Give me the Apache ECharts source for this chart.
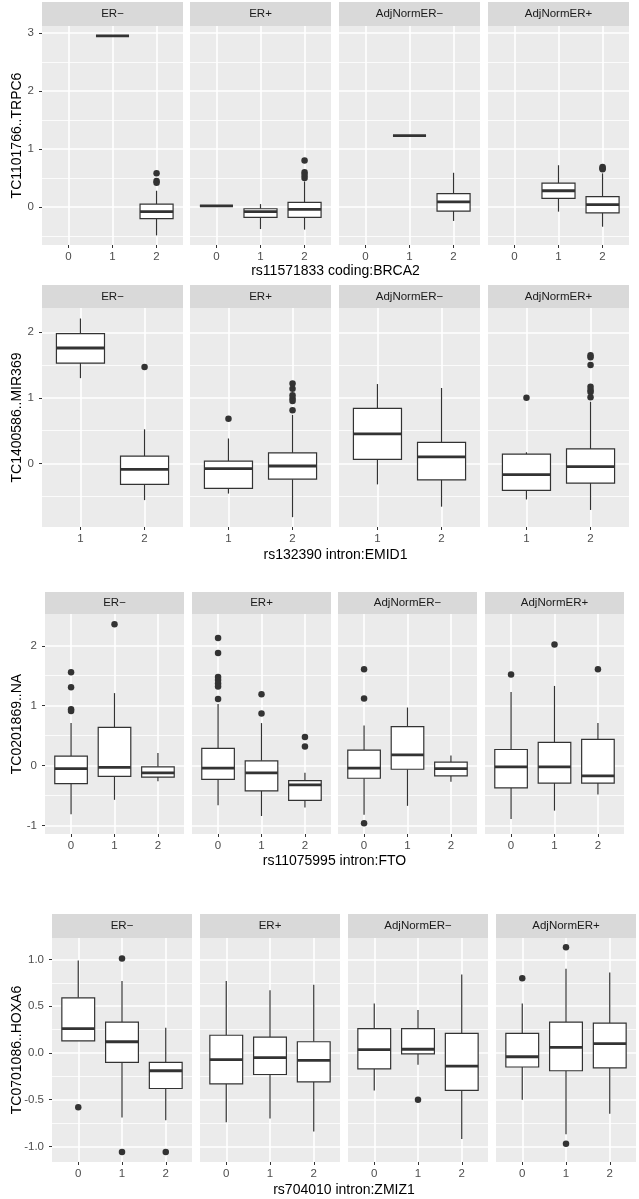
<!DOCTYPE html>
<html>
<head>
<meta charset="utf-8">
<script src="https://cdn.jsdelivr.net/npm/echarts@6/dist/echarts.min.js"></script>
<style>
html,body{margin:0;padding:0;background:#fff;}
#chart{width:639px;height:1199px;}
</style>
</head>
<body>
<div id="chart"></div>
<script>
// ---------------- DATA ----------------
const facetNames = ['ER−', 'ER+', 'AdjNormER−', 'AdjNormER+'];

// box stats per category: [lower whisker, Q1, median, Q3, upper whisker]
// Row 1
const row1Title = 'TC1101766..TRPC6';
const row1XTitle = 'rs11571833 coding:BRCA2';
const row1Cats = ['0', '1', '2'];
const row1YTicks = [0, 1, 2, 3];
const row1YMinor = [-0.5, 0.5, 1.5, 2.5];
const row1YRange = [-0.655, 3.12];
const row1Boxes = [
  [null, [2.95, 2.95, 2.95, 2.95, 2.95], [-0.49, -0.2, -0.08, 0.05, 0.28]],
  [[0.02, 0.02, 0.02, 0.02, 0.02], [-0.38, -0.18, -0.08, -0.03, 0.05], [-0.39, -0.18, -0.04, 0.08, 0.44]],
  [null, [1.23, 1.23, 1.23, 1.23, 1.23], [-0.24, -0.07, 0.09, 0.23, 0.59]],
  [null, [-0.08, 0.15, 0.28, 0.41, 0.72], [-0.34, -0.1, 0.04, 0.18, 0.58]]
];
const row1Outliers = [
  [[2, 0.58], [2, 0.45], [2, 0.42]],
  [[2, 0.8], [2, 0.6], [2, 0.55], [2, 0.5]],
  [],
  [[2, 0.69], [2, 0.67], [2, 0.65]]
];

// Row 2
const row2Title = 'TC1400586..MIR369';
const row2XTitle = 'rs132390 intron:EMID1';
const row2Cats = ['1', '2'];
const row2YTicks = [0, 1, 2];
const row2YMinor = [-0.5, 0.5, 1.5];
const row2YRange = [-0.97, 2.37];
const row2Boxes = [
  [[1.30, 1.53, 1.76, 1.98, 2.21], [-0.56, -0.32, -0.09, 0.11, 0.52]],
  [[-0.46, -0.38, -0.08, 0.035, 0.38], [-0.82, -0.24, -0.04, 0.16, 0.74]],
  [[-0.32, 0.06, 0.45, 0.84, 1.21], [-0.66, -0.25, 0.1, 0.32, 1.15]],
  [[-0.55, -0.41, -0.17, 0.14, 0.17], [-0.71, -0.3, -0.05, 0.22, 0.94]]
];
const row2Outliers = [
  [[1, 1.47]],
  [[0, 0.68], [1, 0.81], [1, 0.95], [1, 0.99], [1, 1.04], [1, 1.14], [1, 1.22]],
  [],
  [[0, 1.0], [1, 1.01], [1, 1.09], [1, 1.12], [1, 1.17], [1, 1.5], [1, 1.62], [1, 1.65]]
];

// Row 3
const row3Title = 'TC0201869..NA';
const row3XTitle = 'rs11075995 intron:FTO';
const row3Cats = ['0', '1', '2'];
const row3YTicks = [-1, 0, 1, 2];
const row3YMinor = [-0.5, 0.5, 1.5];
const row3YRange = [-1.14, 2.53];
const row3Boxes = [
  [[-0.81, -0.3, -0.05, 0.16, 0.71], [-0.57, -0.18, -0.03, 0.64, 1.21], [-0.26, -0.19, -0.12, -0.02, 0.21]],
  [[-0.66, -0.23, -0.04, 0.29, 1.03], [-0.84, -0.42, -0.12, 0.08, 0.71], [-0.7, -0.58, -0.32, -0.25, -0.12]],
  [[-0.82, -0.21, -0.04, 0.26, 0.67], [-0.67, -0.06, 0.18, 0.65, 0.97], [-0.27, -0.17, -0.05, 0.06, 0.17]],
  [[-0.89, -0.37, -0.02, 0.27, 1.23], [-0.75, -0.29, -0.02, 0.39, 1.33], [-0.48, -0.29, -0.17, 0.44, 0.71]]
];
const row3Outliers = [
  [[0, 1.56], [0, 1.31], [0, 0.94], [0, 0.91], [1, 2.36]],
  [[0, 2.13], [0, 1.88], [0, 1.48], [0, 1.43], [0, 1.37], [0, 1.32], [0, 1.11], [1, 1.19], [1, 0.87], [2, 0.48], [2, 0.32]],
  [[0, 1.61], [0, 1.12], [0, -0.96]],
  [[0, 1.52], [1, 2.02], [2, 1.61]]
];

// Row 4
const row4Title = 'TC0701086..HOXA6';
const row4XTitle = 'rs704010 intron:ZMIZ1';
const row4Cats = ['0', '1', '2'];
const row4YTicks = [-1.0, -0.5, 0.0, 0.5, 1.0];
const row4YMinor = [-0.75, -0.25, 0.25, 0.75];
const row4YRange = [-1.166, 1.23];
const row4Boxes = [
  [[0.13, 0.13, 0.26, 0.59, 0.99], [-0.69, -0.1, 0.12, 0.33, 0.77], [-0.72, -0.38, -0.19, -0.1, 0.27]],
  [[-0.74, -0.33, -0.07, 0.19, 0.77], [-0.7, -0.23, -0.05, 0.17, 0.67], [-0.84, -0.31, -0.08, 0.12, 0.73]],
  [[-0.4, -0.17, 0.035, 0.26, 0.53], [-0.125, -0.01, 0.04, 0.26, 0.46], [-0.92, -0.4, -0.14, 0.21, 0.84]],
  [[-0.5, -0.15, -0.04, 0.21, 0.53], [-0.87, -0.19, 0.06, 0.33, 0.9], [-0.65, -0.16, 0.1, 0.32, 0.86]]
];
const row4Outliers = [
  [[0, -0.58], [1, 1.01], [1, -1.06], [2, -1.06]],
  [],
  [[1, -0.5]],
  [[0, 0.8], [1, 1.13], [1, -0.97]]
];

// ---------------- LAYOUT (pixels) ----------------
const rows = [
  {title: row1Title, xTitle: row1XTitle, cats: row1Cats, ticks: row1YTicks, minor: row1YMinor, range: row1YRange, boxes: row1Boxes, outliers: row1Outliers, dec: 0,
   stripTop: 2, panelTop: 26, panelBottom: 245, lefts: [42, 190, 339, 488], width: 141, xTitleY: 271},
  {title: row2Title, xTitle: row2XTitle, cats: row2Cats, ticks: row2YTicks, minor: row2YMinor, range: row2YRange, boxes: row2Boxes, outliers: row2Outliers, dec: 0,
   stripTop: 285, panelTop: 308, panelBottom: 527, lefts: [42, 190, 339, 488], width: 141, xTitleY: 555},
  {title: row3Title, xTitle: row3XTitle, cats: row3Cats, ticks: row3YTicks, minor: row3YMinor, range: row3YRange, boxes: row3Boxes, outliers: row3Outliers, dec: 0,
   stripTop: 592, panelTop: 614, panelBottom: 834, lefts: [45, 192, 338, 485], width: 139, xTitleY: 861},
  {title: row4Title, xTitle: row4XTitle, cats: row4Cats, ticks: row4YTicks, minor: row4YMinor, range: row4YRange, boxes: row4Boxes, outliers: row4Outliers, dec: 1,
   stripTop: 914, panelTop: 938, panelBottom: 1162, lefts: [52, 200, 348, 496], width: 140, xTitleY: 1190}
];

const FONT = '"Liberation Sans", Arial, Helvetica, sans-serif';
const DARK = '#333333';

function renderBox(params, api) {
  const x = api.value(0);
  const lo = api.coord([x, api.value(1)]);
  const q1 = api.coord([x, api.value(2)]);
  const md = api.coord([x, api.value(3)]);
  const q3 = api.coord([x, api.value(4)]);
  const hi = api.coord([x, api.value(5)]);
  const hw = api.size([0.75, 0])[0] / 2;
  const st = {stroke: DARK, lineWidth: 1.2, fill: null};
  return {
    type: 'group',
    children: [
      {type: 'line', shape: {x1: lo[0], y1: lo[1], x2: q1[0], y2: q1[1]}, style: st},
      {type: 'line', shape: {x1: q3[0], y1: q3[1], x2: hi[0], y2: hi[1]}, style: st},
      {type: 'rect', shape: {x: q3[0] - hw, y: q3[1], width: 2 * hw, height: q1[1] - q3[1]},
       style: {fill: '#ffffff', stroke: DARK, lineWidth: 1.2}},
      {type: 'line', shape: {x1: md[0] - hw, y1: md[1], x2: md[0] + hw, y2: md[1]},
       style: {stroke: DARK, lineWidth: 2.8}}
    ]
  };
}

const grid = [], xAxis = [], yAxis = [], series = [], graphic = [];

rows.forEach((row, r) => {
  const n = row.cats.length;
  const catIdx = row.cats.map((c, i) => i);
  row.lefts.forEach((left, f) => {
    const gi = grid.length;
    grid.push({left: left, top: row.panelTop, width: row.width, height: row.panelBottom - row.panelTop,
      show: true, backgroundColor: '#EBEBEB', borderWidth: 0, containLabel: false});
    xAxis.push({
      gridIndex: gi, type: 'value', min: -0.6, max: n - 1 + 0.6, position: 'bottom',
      axisLine: {show: false, onZero: false},
      axisTick: {show: true, length: 3, lineStyle: {color: DARK, width: 1}, customValues: catIdx},
      axisLabel: {show: true, customValues: catIdx, margin: 6, color: '#4D4D4D', fontSize: 11.5, fontFamily: FONT,
        formatter: v => row.cats[Math.round(v)]},
      splitLine: {show: true, lineStyle: {color: '#FFFFFF', width: 1.6}}
    });
    const yi = yAxis.length;
    yAxis.push({
      gridIndex: gi, type: 'value', min: row.range[0], max: row.range[1], position: 'left',
      axisLine: {show: false, onZero: false},
      axisTick: {show: f === 0, length: 3, lineStyle: {color: DARK, width: 1}, customValues: row.ticks},
      axisLabel: {show: f === 0, customValues: row.ticks, margin: 8, color: '#4D4D4D', fontSize: 11.5, fontFamily: FONT,
        formatter: v => Number(v).toFixed(row.dec)},
      splitLine: {show: true, lineStyle: {color: '#FFFFFF', width: 1.6}}
    });
    yAxis.push({
      gridIndex: gi, type: 'value', min: row.range[0], max: row.range[1], position: 'right',
      axisLine: {show: false, onZero: false},
      axisTick: {show: false, customValues: row.minor},
      axisLabel: {show: false, customValues: row.minor},
      splitLine: {show: true, lineStyle: {color: '#FFFFFF', width: 0.8}}
    });
    const boxData = [];
    row.boxes[f].forEach((b, i) => { if (b) boxData.push([i].concat(b)); });
    series.push({
      type: 'custom', xAxisIndex: gi, yAxisIndex: yi, renderItem: renderBox,
      encode: {x: 0, y: [1, 2, 3, 4, 5]}, data: boxData, z: 3, silent: true
    });
    series.push({
      type: 'scatter', xAxisIndex: gi, yAxisIndex: yi, data: row.outliers[f],
      symbol: 'circle', symbolSize: 6.5, itemStyle: {color: DARK, opacity: 1}, z: 4, silent: true
    });
    // facet strip
    graphic.push({type: 'rect', left: left, top: row.stripTop,
      shape: {width: row.width, height: row.panelTop - row.stripTop},
      style: {fill: '#D9D9D9'}, silent: true});
    graphic.push({type: 'text', x: left + row.width / 2, y: (row.stripTop + row.panelTop) / 2,
      style: {text: facetNames[f], fill: '#1A1A1A', fontSize: 11.5, fontFamily: FONT, textAlign: 'center', textVerticalAlign: 'middle'},
      silent: true});
  });
  // y title
  graphic.push({type: 'text', x: 17, y: (row.panelTop + row.panelBottom) / 2, rotation: Math.PI / 2,
    style: {text: row.title, fill: '#000000', fontSize: 14, fontFamily: FONT, textAlign: 'center', textVerticalAlign: 'middle'},
    silent: true});
  // x title
  const xl = row.lefts[0], xr = row.lefts[3] + row.width;
  graphic.push({type: 'text', x: (xl + xr) / 2, y: row.xTitleY,
    style: {text: row.xTitle, fill: '#000000', fontSize: 14, fontFamily: FONT, textAlign: 'center', textVerticalAlign: 'middle'},
    silent: true});
});

const chart = echarts.init(document.getElementById('chart'), null, {renderer: 'canvas'});
chart.setOption({
  animation: false,
  backgroundColor: '#FFFFFF',
  textStyle: {fontFamily: FONT},
  grid: grid, xAxis: xAxis, yAxis: yAxis, series: series, graphic: graphic
});
</script>
</body>
</html>
